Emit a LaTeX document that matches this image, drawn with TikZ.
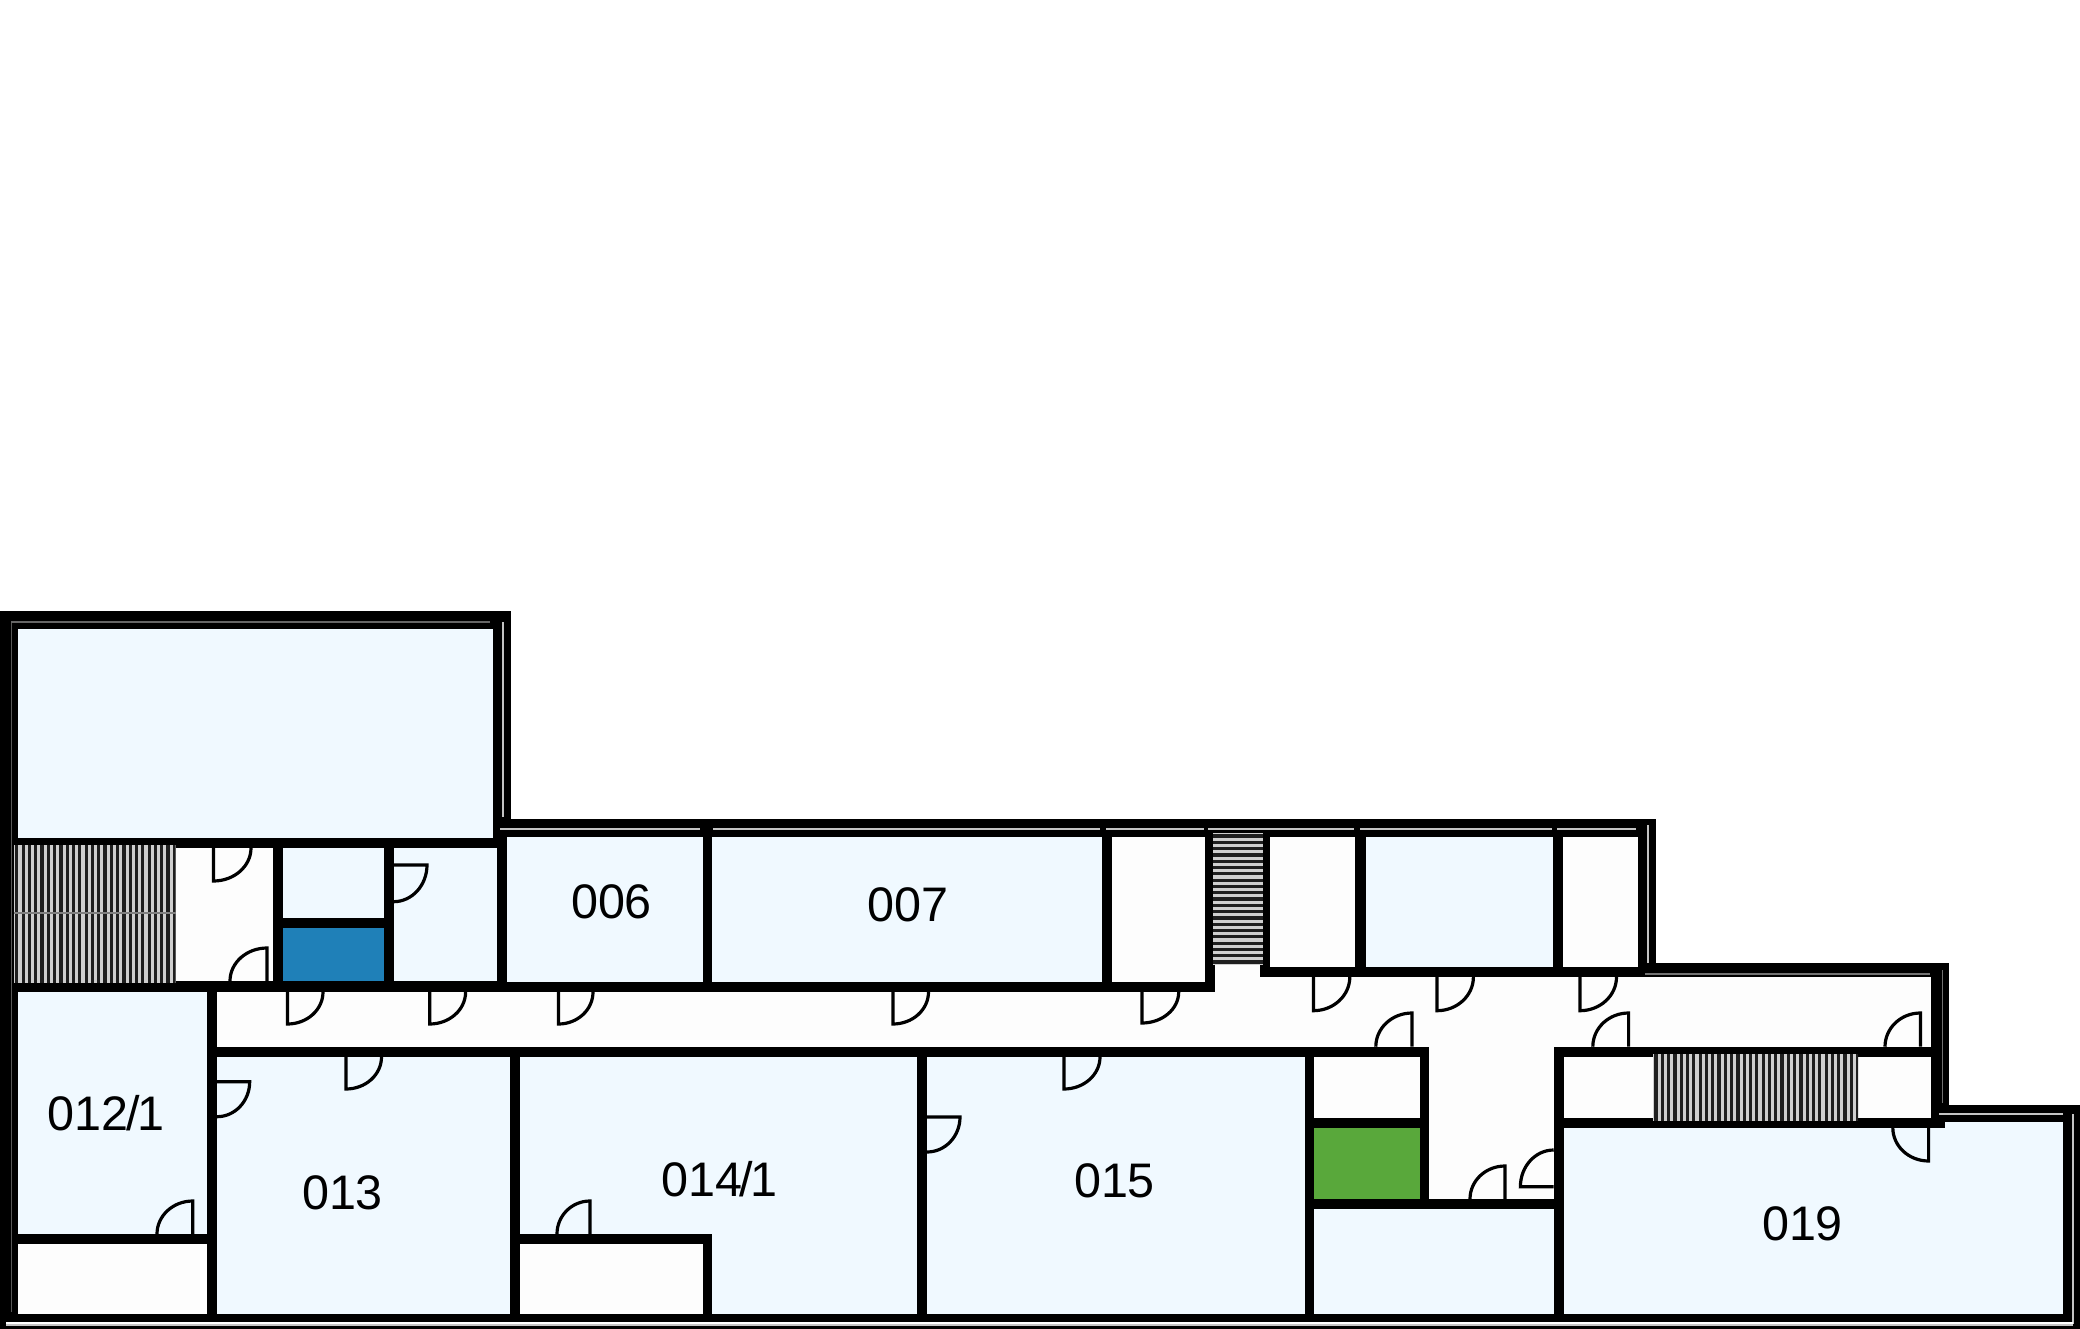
\documentclass[tikz,border=0pt]{standalone}
\usepackage{fontspec}
\setmainfont{Liberation Sans}
\definecolor{roomblue}{HTML}{F0F9FF}
\definecolor{plainroom}{HTML}{FDFDFD}
\definecolor{wcblue}{HTML}{1F80B8}
\definecolor{wcgreen}{HTML}{59A83B}
\definecolor{gapgrey}{HTML}{C4C4C4}
\definecolor{stepgrey}{HTML}{CFCFCF}
\tikzset{
  wall/.style={fill=black},
  room/.style={fill=roomblue},
  plain/.style={fill=plainroom},
  gapline/.style={draw=gapgrey,line width=2.4pt},
  doorline/.style={draw=black,line width=3.2pt,line join=miter},
  roomlabel/.style={font=\fontsize{48.5}{52}\selectfont,text=black,inner sep=0pt},
  stripe/.style={draw=black!88,line width=3.2pt}
}
% hinge p, leaf end q, arc end r (centred on p)
\newcommand{\doorleaf}[6]{%
  \pgfmathsetmacro{\cax}{#3+0.5523*(#5-#1)}%
  \pgfmathsetmacro{\cay}{#4+0.5523*(#6-#2)}%
  \pgfmathsetmacro{\cbx}{#5+0.5523*(#3-#1)}%
  \pgfmathsetmacro{\cby}{#6+0.5523*(#4-#2)}%
  \draw[doorline] (#1,#2) -- (#3,#4) .. controls (\cax,\cay) and (\cbx,\cby) .. (#5,#6);%
}
\newcommand{\vsteps}[4]{% x0 y0 x1 y1: vertical stripes
  \fill[stepgrey] (#1,#2) rectangle (#3,#4);
  \begin{scope}
  \clip (#1,#2) rectangle (#3,#4);
  \pgfmathsetmacro{\nn}{int((#3-#1)/6.3)}
  \foreach \i in {0,...,\nn}{\draw[stripe] ({#1+3+6.3*\i},#2) -- ({#1+3+6.3*\i},#4);}
  \end{scope}
}
\newcommand{\hsteps}[4]{%
  \fill[stepgrey] (#1,#2) rectangle (#3,#4);
  \begin{scope}
  \clip (#1,#2) rectangle (#3,#4);
  \pgfmathsetmacro{\nn}{int((#4-#2)/6.3)}
  \foreach \i in {0,...,\nn}{\draw[stripe] (#1,{#2+3+6.3*\i}) -- (#3,{#2+3+6.3*\i});}
  \end{scope}
}
\newcommand{\slashkern}{\kern-2.6pt/\kern-2.6pt}
\begin{document}
\begin{tikzpicture}[x=1pt,y=-1pt]
\useasboundingbox (0,0) rectangle (2080,1329);
\fill[white] (0,0) rectangle (2080,1329);

% ---- black mass of the building (walls are what is left between rooms)
\fill[wall] (0,611) rectangle (510.7,1329);
\fill[wall] (493,819) rectangle (1656,992);
\fill[wall] (1639,963) rectangle (1948.5,1329);
\fill[wall] (0,992) rectangle (2080,1329);
\fill[white] (1948.5,963) rectangle (2080,1105);

% ---- rooms
\fill[room]  (17.6,628.7) rectangle (493,838);
\fill[plainroom] (175,848) rectangle (273,981);
\fill[room]  (282.7,848) rectangle (383.6,918);
\fill[wcblue] (282.7,928.3) rectangle (383.6,981);
\fill[room]  (393.6,848) rectangle (497,981);
\fill[room]  (507,836.7) rectangle (703,981.7);
\fill[room]  (712,836.7) rectangle (1102,981.7);
\fill[plainroom] (1112,836.7) rectangle (1205,981.7);
\fill[plainroom] (1270,836.7) rectangle (1355,967.3);
\fill[room]  (1365.5,836.7) rectangle (1552.6,967.3);
\fill[plainroom] (1562.6,836.7) rectangle (1638,967.3);

% corridor
\fill[plainroom] (217,992) rectangle (1215,1046.7);
\fill[plainroom] (1215,977.3) rectangle (1930.6,1046.7);
\fill[plainroom] (1215,965) rectangle (1260,980);
\fill[plainroom] (1429,1046) rectangle (1553.7,1199);

\fill[room]  (17.6,992) rectangle (207,1234);
\fill[plainroom] (17.6,1244) rectangle (207,1314);
\fill[room]  (217,1056.7) rectangle (510,1314);
\fill[room]  (520,1056.7) rectangle (917,1234);
\fill[room]  (712,1234) rectangle (917,1314);
\fill[plainroom] (520,1244) rectangle (703,1314);
\fill[room]  (927,1056.7) rectangle (1304.6,1314);
\fill[plainroom] (1314,1056.7) rectangle (1419.5,1118.3);
\fill[wcgreen] (1314,1127.7) rectangle (1419.5,1199);
\fill[room]  (1314,1209) rectangle (1553.7,1314);
\fill[plainroom] (1564,1056.7) rectangle (1930.6,1118.3);
\fill[room]  (1564,1127.7) rectangle (1945,1314);
\fill[room]  (1945,1121.7) rectangle (2063,1314);

% ---- grey gaps inside the double outer walls
\draw[gapline,draw=black!65,line width=1.6pt] (11.4,622) -- (11.4,1312);
\draw[gapline,draw=black!60,line width=1.6pt] (11.4,622) -- (490,622);
\draw[gapline] (503,622) -- (503,816.7);
\draw[gapline] (500,829) -- (700,829);
\draw[gapline] (713,829) -- (1100,829);
\draw[gapline] (1106,829) -- (1204,829);
\draw[gapline] (1208,829) -- (1354,829);
\draw[gapline] (1360,829) -- (1552,829);
\draw[gapline] (1557,829) -- (1636,829);
\draw[gapline] (1648,825) -- (1648,963);
\draw[gapline,draw=black!55,line width=1.6pt] (1645,974) -- (1930,974);
\draw[gapline,draw=black!55,line width=1.6pt] (1942.4,970) -- (1942.4,1103);
\draw[gapline] (1939,1114) -- (2062.6,1114);
\draw[gapline] (2073,1114) -- (2073,1324);
\fill[white] (6,1322) rectangle (2073,1325);
\fill[gapgrey] (6,1324) rectangle (2073,1326);

% ---- stairs
\vsteps{13.8}{845}{175.6}{983}
\draw[draw=black!50,line width=1.8pt] (13.8,913) -- (175.6,913);
\hsteps{1213}{833}{1263}{965}
\vsteps{1653}{1054}{1858}{1121}

% ---- doors
\doorleaf{213.5}{848}{213.5}{881}{251}{848}
\doorleaf{267}{981}{267}{948}{230}{981}
\doorleaf{393.6}{865}{427}{865}{393.6}{901.7}
\doorleaf{287.5}{992}{287.5}{1024}{323}{992}
\doorleaf{429.7}{992}{429.7}{1024}{465.6}{992}
\doorleaf{558.5}{992}{558.5}{1024}{593}{992}
\doorleaf{893}{992}{893}{1024}{928.5}{992}
\doorleaf{1142}{992}{1142}{1023}{1178.7}{992}
\doorleaf{1313.4}{977}{1313.4}{1010.7}{1349.8}{977}
\doorleaf{1437}{977}{1437}{1010.7}{1473.4}{977}
\doorleaf{1580}{977}{1580}{1010.7}{1616.5}{977}
\doorleaf{1412}{1046.7}{1412}{1013}{1375.8}{1046.7}
\doorleaf{1628.6}{1046.7}{1628.6}{1013}{1592.8}{1046.7}
\doorleaf{1920.4}{1046.7}{1920.4}{1013}{1885}{1046.7}
\doorleaf{346}{1057}{346}{1089}{381.5}{1057}
\doorleaf{1064}{1057}{1064}{1089}{1100}{1057}
\doorleaf{217}{1081.7}{249.7}{1081.7}{217}{1116.7}
\doorleaf{927}{1117}{960}{1117}{927}{1152}
\doorleaf{192.8}{1234}{192.8}{1201}{157}{1234}
\doorleaf{590}{1234}{590}{1201}{557}{1234}
\doorleaf{1505}{1199}{1505}{1166}{1470}{1199}
\doorleaf{1553.7}{1186.7}{1520.4}{1186.7}{1553.7}{1150}
\doorleaf{1928.6}{1127.7}{1928.6}{1161}{1892.8}{1127.7}

% ---- labels
\node[roomlabel] (r0121) at (106,1113) {012\slashkern1};
\node[roomlabel] (r013)  at (342.5,1193) {013};
\node[roomlabel] (r006)  at (611.5,902) {006};
\node[roomlabel] (r007)  at (908,905) {007};
\node[roomlabel] (r0141) at (719.5,1179) {014\slashkern1};
\node[roomlabel] (r015)  at (1114.5,1181) {015};
\node[roomlabel] (r019)  at (1802.5,1224) {019};
\end{tikzpicture}
\end{document}
